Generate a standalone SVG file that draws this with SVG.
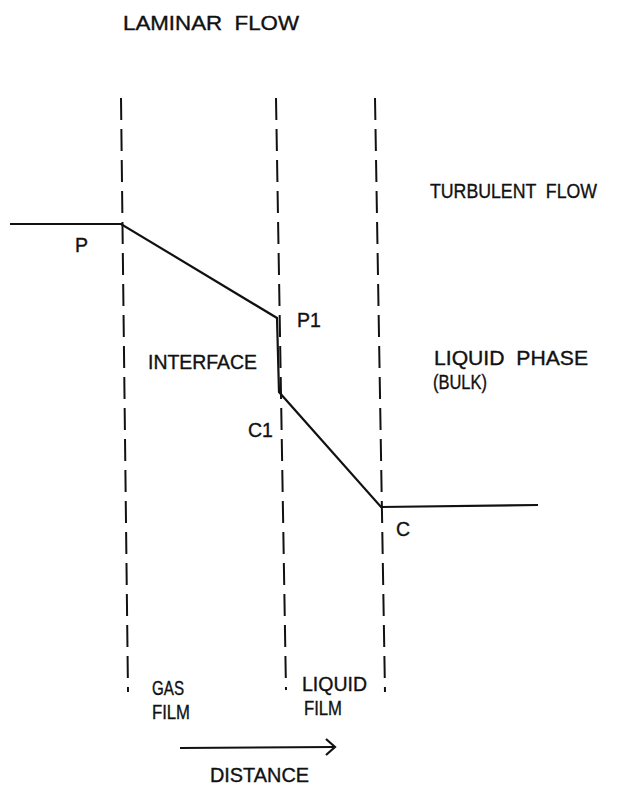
<svg xmlns="http://www.w3.org/2000/svg" width="621" height="787" viewBox="0 0 621 787">
<style>
text{font-family:"Liberation Sans",Arial,sans-serif;font-size:19.5px;fill:#111;stroke:#111;stroke-width:0.35;white-space:pre}
.dash{stroke:#111;stroke-width:2;stroke-dasharray:22 9;fill:none}
.solid{stroke:#111;stroke-width:2.2;fill:none;stroke-linejoin:miter}
</style>
<rect width="621" height="787" fill="#fff"/>
<g id="boundaries">
<line id="gas-boundary" class="dash" x1="121" y1="98" x2="128" y2="692"/>
<line id="interface-boundary" class="dash" x1="276" y1="98" x2="286" y2="690"/>
<line id="liquid-boundary" class="dash" x1="375" y1="98" x2="385" y2="692"/>
</g>
<g id="connectors">
<polyline id="profile" class="solid" points="10,224 121,224 277,318 279,392 381,507 538,505"/>
<line id="distance-arrow" class="solid" x1="180" y1="748" x2="334" y2="747"/>
<polyline class="solid" points="326,739 335,747 326,755"/>
</g>
<g id="labels">
<text id="laminar" x="123" y="30" xml:space="preserve" textLength="176" lengthAdjust="spacingAndGlyphs">LAMINAR  FLOW</text>
<text id="turbulent" x="430" y="198" xml:space="preserve" textLength="167" lengthAdjust="spacingAndGlyphs">TURBULENT  FLOW</text>
<text id="p" x="75" y="252">P</text>
<text id="p1" x="297" y="327">P1</text>
<text id="interface" x="148" y="369" textLength="109" lengthAdjust="spacingAndGlyphs">INTERFACE</text>
<text id="liquid-phase" x="434" y="365" xml:space="preserve" textLength="154" lengthAdjust="spacingAndGlyphs">LIQUID  PHASE</text>
<text id="bulk" x="433" y="389" textLength="54" lengthAdjust="spacingAndGlyphs">(BULK)</text>
<text id="c1" x="248" y="437">C1</text>
<text id="c" x="396" y="536">C</text>
<text id="gas" x="152" y="695" textLength="32" lengthAdjust="spacingAndGlyphs">GAS</text>
<text id="gas-film" x="152" y="719" textLength="38" lengthAdjust="spacingAndGlyphs">FILM</text>
<text id="liquid" x="302" y="691" textLength="65" lengthAdjust="spacingAndGlyphs">LIQUID</text>
<text id="liquid-film" x="304" y="715" textLength="38" lengthAdjust="spacingAndGlyphs">FILM</text>
<text id="distance" x="210" y="782" textLength="99" lengthAdjust="spacingAndGlyphs">DISTANCE</text>
</g>
</svg>
